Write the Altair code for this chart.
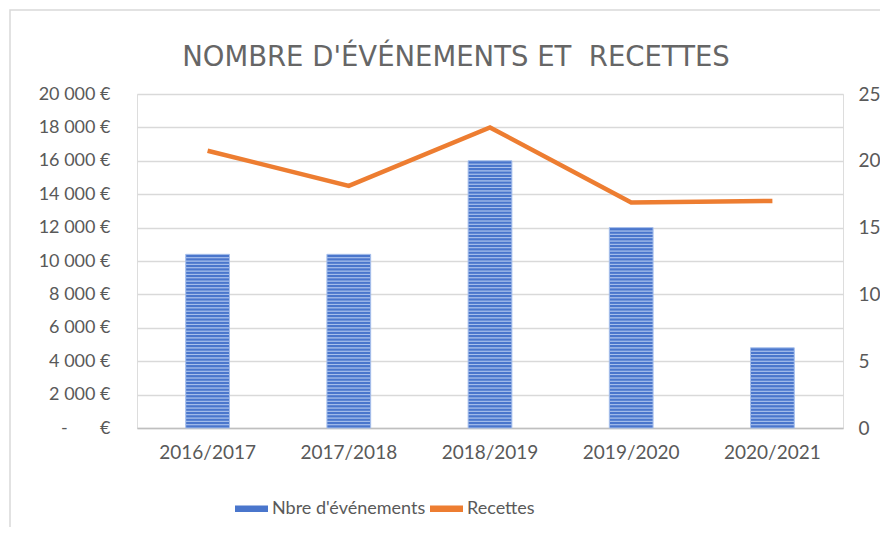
import altair as alt
import pandas as pd

saisons = ["2016/2017", "2017/2018", "2018/2019", "2019/2020", "2020/2021"]
evenements = [13, 13, 20, 15, 6]
recettes = [16600, 14500, 18000, 13500, 13600]
serie_names = ["Nbre d'événements", "Recettes"]
serie_colors = ["#4a76cc", "#ED7D31"]

# striped bars: bars are split into thin slices (0.25 event each) for the pattern
rows = []
for s, v in zip(saisons, evenements):
    n = int(round(v * 4))
    for k in range(n):
        rows.append({"saison": s, "y0": k / 4, "y1": (k + 1) / 4, "serie": serie_names[0]})
bars_df = pd.DataFrame(rows)
line_df = pd.DataFrame({"saison": saisons, "recettes": recettes})

FONT = "Lato"
GRAY = "#595959"

xenc = alt.X("saison:N", sort=saisons, title=None,
             scale=alt.Scale(paddingInner=0.69, paddingOuter=0.345),
             axis=alt.Axis(labelAngle=0, labelFontSize=19, labelColor=GRAY, labelFont=FONT,
                           ticks=False, domainColor="#bfbfbf", domainWidth=1.5, labelPadding=15))

bars = alt.Chart(bars_df).mark_bar(stroke="#a9c1ec", strokeWidth=1).encode(
    x=xenc,
    y=alt.Y("y0:Q", title=None, scale=alt.Scale(domain=[0, 25], nice=False),
            axis=alt.Axis(orient="right", values=[0, 5, 10, 15, 20, 25], grid=False, ticks=False,
                          domain=False, labelFontSize=19, labelColor=GRAY, labelFont=FONT,
                          labelPadding=15)),
    y2="y1:Q",
    color=alt.Color("serie:N", scale=alt.Scale(domain=serie_names, range=serie_colors),
                    legend=alt.Legend(title=None, orient="none", legendX=98, legendY=398,
                                      direction="horizontal",
                                      symbolType="M-1,-0.2H1V0.2H-1Z", symbolSize=1089,
                                      symbolStrokeWidth=0, labelFontSize=18, labelFont=FONT,
                                      labelColor=GRAY, labelOffset=4, columnPadding=4)),
)

line = alt.Chart(line_df).mark_line(color="#ED7D31", strokeWidth=4.5).encode(
    x=alt.X("saison:N", sort=saisons),
    y=alt.Y("recettes:Q", title=None, scale=alt.Scale(domain=[0, 20000], nice=False),
            axis=alt.Axis(orient="left", values=list(range(0, 20001, 2000)), grid=True,
                          gridColor="#d9d9d9", gridWidth=1.3, ticks=False, domain=False,
                          labelFontSize=18, labelColor=GRAY, labelFont=FONT, labelPadding=27,
                          labelExpr="datum.value == 0 ? '-\u00a0\u00a0\u00a0\u00a0\u00a0\u00a0\u00a0€' : replace(format(datum.value, ',d'), ',', '\u00a0') + '\u00a0€'")),
)

frame = alt.Chart(pd.DataFrame({"a": [0]})).mark_rect(
    filled=False, stroke="#d9d9d9", strokeWidth=1.5
).encode(x=alt.value(-127), x2=alt.value(790), y=alt.value(-84), y2=alt.value(470))

chart = alt.layer(frame, bars, line).resolve_scale(y="independent").properties(
    width=706, height=334,
    autosize=alt.AutoSizeParams(type="none"),
    padding={"left": 129, "top": 86, "right": 37, "bottom": 99},
    title=alt.TitleParams("NOMBRE D'ÉVÉNEMENTS ET \u00a0RECETTES", fontSize=27.5, font="DejaVu Sans",
                          fontWeight="normal", color="#666666", anchor="middle", frame="group",
                          dx=-34, offset=-62),
).configure_view(stroke=None).configure(background="white")

chart.save("out.html", embed_options={"renderer": "svg", "actions": False})
